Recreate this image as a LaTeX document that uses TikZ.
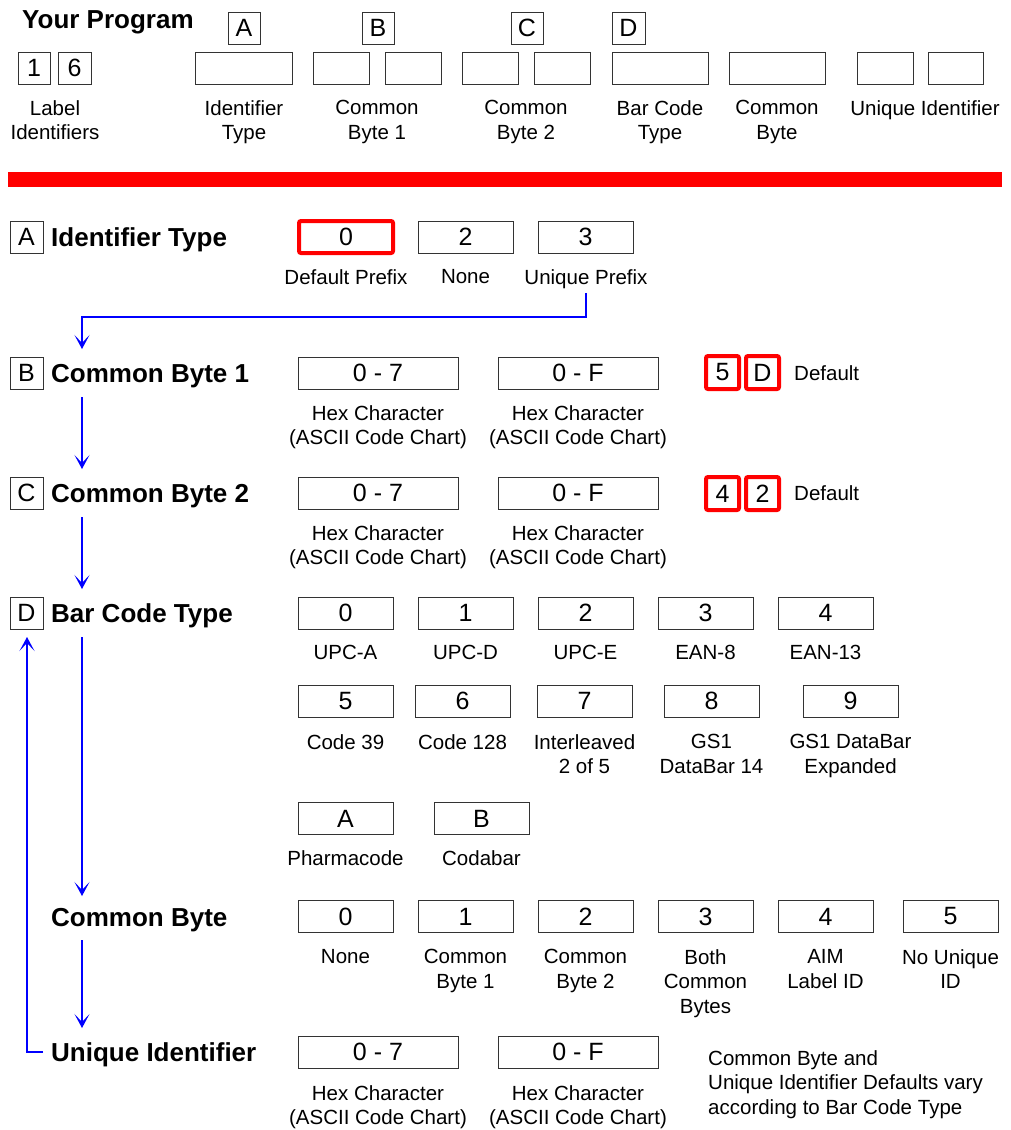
\documentclass[tikz,border=0pt]{standalone}
\usepackage{fontspec}
\setmainfont{Liberation Sans}
\usetikzlibrary{arrows.meta}
\begin{document}
\begin{tikzpicture}[x=1pt,y=-1pt,
  vbox/.style={draw=black!80, line width=1pt, minimum height=32pt, inner sep=0pt, font=\fontsize{25}{30}\selectfont},
  rbox/.style={draw=red, line width=4pt, rounded corners=2pt, minimum height=32pt, inner sep=0pt, font=\fontsize{25}{30}\selectfont},
  lbl/.style={font=\fontsize{20.5}{24.5}\selectfont, align=center, anchor=north, inner sep=0pt, yshift=7.6pt},
  note/.style={font=\fontsize{20.5}{24.5}\selectfont, align=left, anchor=north west, inner sep=0pt, yshift=7.6pt},
  ttl/.style={font=\bfseries\fontsize{26}{30}\selectfont, anchor=base west, inner sep=0pt, yshift=-9.3pt},
  arr/.style={draw=blue, line width=1.3pt, -{Stealth[length=14pt,width=15pt,inset=8pt]}},
]
\useasboundingbox (0,0) rectangle (1010,1130);
\fill[white] (0,0) rectangle (1010,1130);

% ---------------- Your Program ----------------
\node[ttl] (yp) at (22,19) {Your Program};
\node[vbox, minimum width=32] (pA) at (244,28) {A};
\node[vbox, minimum width=32] (pB) at (378,28) {B};
\node[vbox, minimum width=32] (pC) at (527,28) {C};
\node[vbox, minimum width=33] (pD) at (628.5,28) {D};

\node[vbox, minimum width=32] (p1) at (34,68) {1};
\node[vbox, minimum width=33] (p6) at (74.5,68) {6};
\node[vbox, minimum width=97] (pIT) at (243.5,68) {};
\node[vbox, minimum width=56] (pB1a) at (341,68) {};
\node[vbox, minimum width=56] (pB1b) at (413,68) {};
\node[vbox, minimum width=56] (pB2a) at (490,68) {};
\node[vbox, minimum width=56] (pB2b) at (562,68) {};
\node[vbox, minimum width=96] (pBC) at (660,68) {};
\node[vbox, minimum width=96] (pCB) at (777,68) {};
\node[vbox, minimum width=56] (pUa) at (885,68) {};
\node[vbox, minimum width=55] (pUb) at (955.5,68) {};

\node[lbl] (qL) at (55,108) {Label\\Identifiers};
\node[lbl] (qIT) at (244,108) {Identifier\\Type};
\node[lbl] (qB1) at (377,108) {Common\\Byte 1};
\node[lbl] (qB2) at (526,108) {Common\\Byte 2};
\node[lbl] (qBC) at (660,108) {Bar Code\\Type};
\node[lbl] (qCB) at (777,108) {Common\\Byte};
\node[lbl] (qU) at (925,108) {Unique Identifier};

% red bar
\fill[red] (8,172) rectangle (1002,187);

% ---------------- A ----------------
\node[vbox, minimum width=33] (lA) at (26.5,237) {A};
\node[ttl] (tA) at (51,237) {Identifier Type};
\node[rbox, minimum width=94] (a0) at (346,237) {0};
\node[vbox, minimum width=95] (a2) at (465.5,237) {2};
\node[vbox, minimum width=95] (a3) at (585.5,237) {3};
\node[lbl] (la0) at (346,277) {Default Prefix};
\node[lbl] (la2) at (465.5,277) {None};
\node[lbl] (la3) at (586,277) {Unique Prefix};

% ---------------- B ----------------
\node[vbox, minimum width=33] (lB) at (26.5,373) {B};
\node[ttl] (tB) at (51,373) {Common Byte 1};
\node[vbox, minimum width=160] (b1) at (378,373) {0 - 7};
\node[vbox, minimum width=160] (b2) at (578,373) {0 - F};
\node[rbox, minimum width=33, minimum height=33] (b5) at (722.5,372.5) {5};
\node[rbox, minimum width=33, minimum height=33] (bD) at (762.5,372.5) {D};
\node[note] (bdef) at (794,373) {Default};
\node[lbl] (lb1) at (378,413) {Hex Character\\(ASCII Code Chart)};
\node[lbl] (lb2) at (578,413) {Hex Character\\(ASCII Code Chart)};

% ---------------- C ----------------
\node[vbox, minimum width=33] (lC) at (26.5,493) {C};
\node[ttl] (tC) at (51,493) {Common Byte 2};
\node[vbox, minimum width=160] (c1) at (378,493) {0 - 7};
\node[vbox, minimum width=160] (c2) at (578,493) {0 - F};
\node[rbox, minimum width=33, minimum height=33] (c4) at (722.5,493.5) {4};
\node[rbox, minimum width=33, minimum height=33] (c2r) at (762.5,493.5) {2};
\node[note] (cdef) at (794,493) {Default};
\node[lbl] (lc1) at (378,533) {Hex Character\\(ASCII Code Chart)};
\node[lbl] (lc2) at (578,533) {Hex Character\\(ASCII Code Chart)};

% ---------------- D ----------------
\node[vbox, minimum width=33] (lD) at (26.5,613) {D};
\node[ttl] (tD) at (51,613) {Bar Code Type};
\node[vbox, minimum width=95] (d0) at (345.5,613) {0};
\node[vbox, minimum width=95] (d1) at (465.5,613) {1};
\node[vbox, minimum width=95] (d2) at (585.5,613) {2};
\node[vbox, minimum width=95] (d3) at (705.5,613) {3};
\node[vbox, minimum width=95] (d4) at (825.5,613) {4};
\node[lbl] at (345.5,653) {UPC-A};
\node[lbl] at (465.5,653) {UPC-D};
\node[lbl] at (585.5,653) {UPC-E};
\node[lbl] at (705.5,653) {EAN-8};
\node[lbl] at (825.5,653) {EAN-13};

\node[vbox, minimum width=95] (d5) at (345.5,701) {5};
\node[vbox, minimum width=95] (d6) at (462.5,701) {6};
\node[vbox, minimum width=95] (d7) at (584.5,701) {7};
\node[vbox, minimum width=95] (d8) at (711.5,701) {8};
\node[vbox, minimum width=95] (d9) at (850.5,701) {9};
\node[lbl] at (345.5,742) {Code 39};
\node[lbl] at (462.5,742) {Code 128};
\node[lbl] at (584.5,742) {Interleaved\\2 of 5};
\node[lbl] at (711.5,742) {GS1\\DataBar 14};
\node[lbl] at (850.5,742) {GS1 DataBar\\Expanded};

\node[vbox, minimum width=95] (dA) at (345.5,818.5) {A};
\node[vbox, minimum width=95] (dB) at (481.5,818.5) {B};
\node[lbl] at (345.5,858) {Pharmacode};
\node[lbl] at (481.5,858) {Codabar};

% ---------------- Common Byte ----------------
\node[ttl] (tCB) at (51,917) {Common Byte};
\node[vbox, minimum width=95] (e0) at (345.5,916.5) {0};
\node[vbox, minimum width=95] (e1) at (465.5,916.5) {1};
\node[vbox, minimum width=95] (e2) at (585.5,916.5) {2};
\node[vbox, minimum width=95] (e3) at (705.5,916.5) {3};
\node[vbox, minimum width=95] (e4) at (825.5,916.5) {4};
\node[vbox, minimum width=95] (e5) at (950.5,916.5) {5};
\node[lbl] at (345.5,957) {None};
\node[lbl] at (465.5,957) {Common\\Byte 1};
\node[lbl] at (585.5,957) {Common\\Byte 2};
\node[lbl] at (705.5,957) {Both\\Common\\Bytes};
\node[lbl] at (825.5,957) {AIM\\Label ID};
\node[lbl] at (950.5,957) {No Unique\\ID};

% ---------------- Unique Identifier ----------------
\node[ttl] (tUI) at (51,1052) {Unique Identifier};
\node[vbox, minimum width=160] (u1) at (378,1052) {0 - 7};
\node[vbox, minimum width=160] (u2) at (578,1052) {0 - F};
\node[lbl] at (378,1093) {Hex Character\\(ASCII Code Chart)};
\node[lbl] at (578,1093) {Hex Character\\(ASCII Code Chart)};
\node[note] (unote) at (708,1058) {Common Byte and\\Unique Identifier Defaults vary\\according to Bar Code Type};

% ---------------- connectors ----------------
\coordinate (kA) at (82,317);
\coordinate (tipB) at (82,349);
\coordinate (sB) at (82,397);
\coordinate (tipC) at (82,469);
\coordinate (sC) at (82,517);
\coordinate (tipD) at (82,589);
\coordinate (sD) at (82,637);
\coordinate (tipCB) at (82,896);
\coordinate (sCB) at (82,940);
\coordinate (tipUI) at (82,1028);
\coordinate (tipLoop) at (27,637);
\coordinate (loopS) at (43,1052);

\draw[arr, shorten <=4pt] (la3.south) |- (kA) -- (tipB);
\draw[arr] (sB) -- (tipC);
\draw[arr] (sC) -- (tipD);
\draw[arr] (sD) -- (tipCB);
\draw[arr] (sCB) -- (tipUI);
\draw[arr] (loopS) -| (tipLoop);
\end{tikzpicture}
\end{document}
